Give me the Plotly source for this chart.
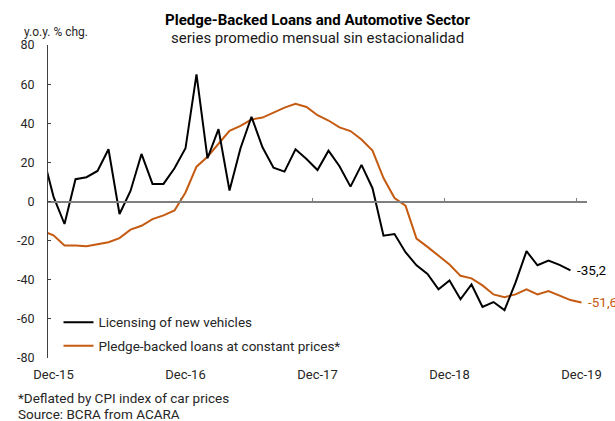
import pandas as pd
import plotly.graph_objects as go

# Monthly series, y.o.y. % change (Nov-15 .. Dec-19)
months = pd.period_range("2015-11", "2019-12", freq="M")

licensing = [
    24.3, 2.5, -11.5, 11.4, 12.4, 15.6, 26.7, -6.4, 5.4, 24.3, 9.0, 9.0,
    17.0, 27.2, 65.0, 22.1, 37.0, 5.6, 27.2, 43.3, 27.7, 17.3, 15.3, 26.7,
    21.7, 16.1, 26.0, 18.0, 7.6, 18.7, 6.8, -17.5, -16.6, -25.9, -32.6, -37.0,
    -44.9, -40.4, -50.0, -42.4, -53.9, -51.4, -55.5, -41.5, -25.4, -32.6, -30.2,
    -32.4, -35.2,
]

pledge_loans = [
    -15.1, -17.3, -22.5, -22.5, -22.9, -22.0, -20.8, -18.7, -14.4, -12.4, -9.0,
    -7.1, -4.6, 4.6, 17.8, 22.9, 29.4, 36.1, 38.7, 41.9, 42.9, 45.5, 48.0,
    49.9, 48.3, 44.1, 41.4, 37.9, 36.0, 31.7, 26.0, 12.0, 1.8, -2.1, -19.0,
    -23.2, -27.6, -32.2, -38.0, -39.3, -42.9, -47.5, -48.9, -47.5, -44.9,
    -47.5, -45.8, -48.3, -50.4, -51.6,
]

x_tick_labels = ["Dec-15", "Dec-16", "Dec-17", "Dec-18", "Dec-19"]
y_tick_values = [80, 60, 40, 20, 0, -20, -40, -60, -80]

# month positions counted from Dec-15
base = pd.Period("2015-12", freq="M")
pos = [(m - base).n for m in months]
x_lic = pos[: len(licensing)]
x_pl = pos[: len(pledge_loans)]
label_pos = [(int("20" + t[-2:]) - 2015) * 12 for t in x_tick_labels]
divider_pos = [p - 0.5 for p in label_pos[1:]]

BLACK = "#000000"
ORANGE = "#C55A11"
TEXT = "#262626"
FONT = "Roboto"

W, H = 615, 421
L, R, T, B = 47.5, 28.3, 45.4, 63.0
pw, ph = W - L - R, H - T - B


def px_x(x):
    return (x - L) / pw


def px_y(y):
    return (H - B - y) / ph


fig = go.Figure()
fig.add_trace(go.Scatter(
    x=x_lic, y=licensing, mode="lines", name="Licensing of new vehicles",
    line=dict(color=BLACK, width=2), xaxis="x2", yaxis="y", legendgroup="a",
))
fig.add_trace(go.Scatter(
    x=x_pl, y=pledge_loans, mode="lines",
    name="Pledge-backed loans at constant prices*",
    line=dict(color=ORANGE, width=2), xaxis="x", yaxis="y", legendgroup="b",
))

xr = [-0.5, max(pos) + 0.5]

fig.update_layout(
    width=W, height=H,
    margin=dict(l=L, r=R, t=T, b=B, pad=0),
    paper_bgcolor="white", plot_bgcolor="white",
    font=dict(family=FONT, size=13.5, color=TEXT),
    showlegend=True,
    legend=dict(
        x=px_x(58), y=px_y(307), xanchor="left", yanchor="top",
        bgcolor="rgba(0,0,0,0)", borderwidth=0,
        font=dict(family=FONT, size=13.5, color=TEXT),
        itemwidth=30, tracegroupgap=3,
    ),
    xaxis=dict(
        range=xr, tickvals=label_pos, ticktext=x_tick_labels,
        ticks="", showline=False, showgrid=False, zeroline=False,
        tickfont=dict(family=FONT, size=13, color=TEXT),
        ticklabelstandoff=7,
    ),
    xaxis2=dict(
        range=xr, overlaying="x", side="top", anchor="free",
        position=(0 - y_tick_values[-1]) / (y_tick_values[0] - y_tick_values[-1]),
        tickvals=divider_pos, ticks="outside", ticklen=3, tickwidth=1.3,
        tickcolor="#7f7f7f", showticklabels=False,
        showline=True, linecolor="#7f7f7f", linewidth=1.5,
        showgrid=False, zeroline=False,
    ),
    yaxis=dict(
        range=[y_tick_values[-1], y_tick_values[0]],
        tickvals=y_tick_values, ticktext=[str(v) for v in y_tick_values],
        ticks="inside", ticklen=3, tickcolor="#404040", tickwidth=1,
        showline=True, linecolor="#404040", linewidth=1,
        showgrid=False, zeroline=False,
        tickfont=dict(family=FONT, size=12.5, color=TEXT),
        ticklabelstandoff=10,
    ),
)

annotations = [
    dict(text="<b>Pledge-Backed Loans and Automotive Sector</b>",
         x=0.5, y=px_y(20.5), xanchor="center", yanchor="middle",
         font=dict(family=FONT, size=15, color="#000000")),
    dict(text="series promedio mensual sin estacionalidad",
         x=0.5, y=px_y(38.5), xanchor="center", yanchor="middle",
         font=dict(family=FONT, size=15, color="#1a1a1a")),
    dict(text="y.o.y. % chg.", x=px_x(21), y=px_y(32.5),
         xanchor="left", yanchor="middle",
         font=dict(family=FONT, size=12, color=TEXT)),
    dict(text="*Deflated by CPI index of car prices", x=px_x(16), y=px_y(398),
         xanchor="left", yanchor="middle", borderpad=0,
         font=dict(family=FONT, size=13.5, color=TEXT)),
    dict(text="Source: BCRA from ACARA", x=px_x(16), y=px_y(414),
         xanchor="left", yanchor="middle", borderpad=0,
         font=dict(family=FONT, size=13.5, color=TEXT)),
]
for a in annotations:
    a.update(xref="paper", yref="paper", showarrow=False)

# end-of-series value labels
annotations.append(dict(
    text=f"{licensing[-1]:.1f}".replace(".", ","), x=x_lic[-1], y=licensing[-1],
    xref="x2", yref="y", xanchor="left", yanchor="middle", xshift=4,
    showarrow=False, font=dict(family=FONT, size=13.5, color=BLACK)))
annotations.append(dict(
    text=f"{pledge_loans[-1]:.1f}".replace(".", ","), x=x_pl[-1], y=pledge_loans[-1],
    xref="x", yref="y", xanchor="left", yanchor="middle", xshift=4,
    showarrow=False, font=dict(family=FONT, size=13.5, color=ORANGE)))

fig.update_layout(annotations=annotations)
fig.write_html("out.html")
